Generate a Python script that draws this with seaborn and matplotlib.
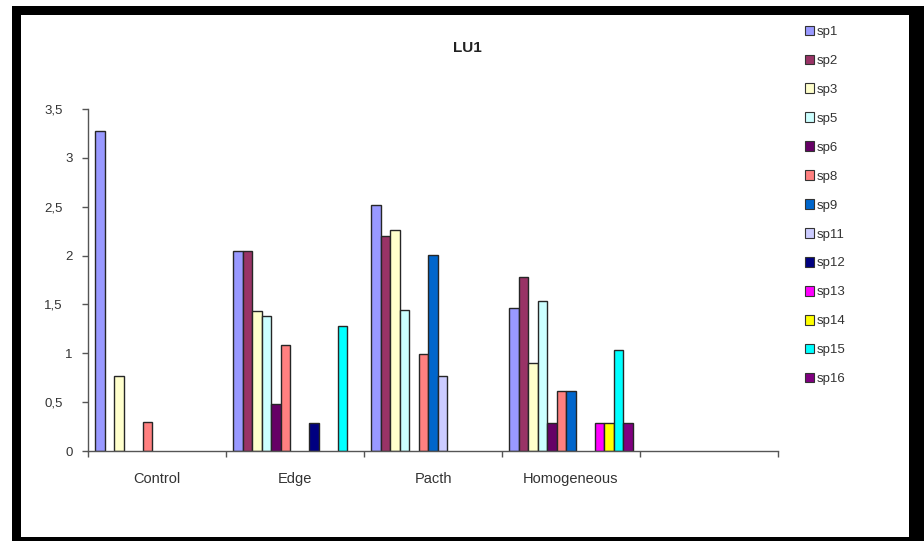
import numpy as np
import pandas as pd
import matplotlib
matplotlib.use("Agg")
import matplotlib.pyplot as plt
import seaborn as sns
from matplotlib.patches import Rectangle, Patch
from matplotlib.transforms import ScaledTranslation

# Sites on the x axis (the last slot is left empty)
sites = ["Control", "Edge", "Pacth", "Homogeneous", ""]

species = ["sp1", "sp2", "sp3", "sp5", "sp6", "sp8", "sp9",
           "sp11", "sp12", "sp13", "sp14", "sp15", "sp16"]

species_colors = ["#9999FF", "#993366", "#FFFFCC", "#CCFFFF", "#660066",
                  "#FF8080", "#0066CC", "#CCCCFF", "#000080", "#FF00FF",
                  "#FFFF00", "#00FFFF", "#800080"]

nan = np.nan
# Values per species, in the order of `species`
control = [3.27, nan, 0.77, nan, nan, 0.30, nan, nan, nan, nan, nan, nan, nan]
edge = [2.05, 2.05, 1.43, 1.38, 0.48, 1.08, nan, nan, 0.29, nan, nan, 1.28, nan]
pacth = [2.52, 2.20, 2.26, 1.44, nan, 0.99, 2.01, 0.77, nan, nan, nan, nan, nan]
homogeneous = [1.46, 1.78, 0.90, 1.54, 0.29, 0.61, 0.61, nan, nan, 0.29, 0.29, 1.03, 0.29]

y_ticks = [0, 0.5, 1, 1.5, 2, 2.5, 3, 3.5]
y_tick_labels = ["0", "0,5", "1", "1,5", "2", "2,5", "3", "3,5"]

rows = []
for site, vals in zip(sites[:4], [control, edge, pacth, homogeneous]):
    for sp, v in zip(species, vals):
        if not np.isnan(v):
            rows.append({"site": site, "species": sp, "value": v})
df = pd.DataFrame(rows)

sns.set_theme(style="white")
plt.rcParams["font.family"] = ["Liberation Sans", "DejaVu Sans"]
text_color = "#333333"

W, H = 924, 541
fig = plt.figure(figsize=(W / 100, H / 100), dpi=100)
fig.patch.set_facecolor("white")

ax = fig.add_axes([88 / W, 1 - 451 / H, (778 - 88) / W, (451 - 109) / H])
ax.set_facecolor("white")

sns.barplot(data=df, x="site", y="value", hue="species",
            order=sites, hue_order=species, palette=species_colors,
            width=13 / 14.5, saturation=1, edgecolor="#262626",
            linewidth=1.0, errorbar=None, legend=False, ax=ax)

ax.set_xlim(-0.5, len(sites) - 0.5)
ax.set_ylim(0, 3.5)
ax.set_xlabel("")
ax.set_ylabel("")

for side in ["top", "right"]:
    ax.spines[side].set_visible(False)
for side in ["left", "bottom"]:
    ax.spines[side].set_color("#555555")
    ax.spines[side].set_linewidth(1.0)

ax.set_yticks(y_ticks)
ax.set_yticklabels(y_tick_labels)
ax.tick_params(axis="y", direction="out", length=4, width=1, color="#555555",
               left=True, pad=7, labelsize=9.5, labelcolor=text_color)
shift = ScaledTranslation(-10 / 100, 0, fig.dpi_scale_trans)
for lab in ax.get_yticklabels():
    if "," in lab.get_text():
        lab.set_transform(lab.get_transform() + shift)

ax.set_xticks(range(len(sites)))
ax.set_xticklabels(sites)
ax.set_xticks(np.arange(-0.5, len(sites), 1.0), minor=True)
ax.tick_params(axis="x", which="major", length=0, pad=15, labelsize=10.5,
               labelcolor=text_color)
ax.tick_params(axis="x", which="minor", direction="out", length=4, width=1,
               color="#555555", bottom=True)

fig.text(467 / W, 1 - 48 / H, "LU1", ha="center", va="center",
         fontsize=11, fontweight="bold", color="#222222")

handles = [Patch(facecolor=c, edgecolor="#333333", linewidth=0.8)
           for c in species_colors]
fig.legend(handles, species, loc="upper left",
           bbox_to_anchor=(798 / W, 1 - 19 / H), frameon=False,
           fontsize=9.5, handlelength=0.75, handleheight=0.75,
           handletextpad=0.2, labelspacing=1.25, borderpad=0,
           labelcolor=text_color)

# Black frame around the chart area
frame_color = "black"
for (x0, y0, x1, y1) in [(12, 6, 21, 541), (12, 6, 924, 15),
                         (909, 6, 924, 541), (12, 537, 924, 541)]:
    fig.patches.append(Rectangle((x0 / W, 1 - y1 / H), (x1 - x0) / W,
                                 (y1 - y0) / H, transform=fig.transFigure,
                                 facecolor=frame_color, edgecolor="none"))

fig.savefig("out.png", dpi=100)
